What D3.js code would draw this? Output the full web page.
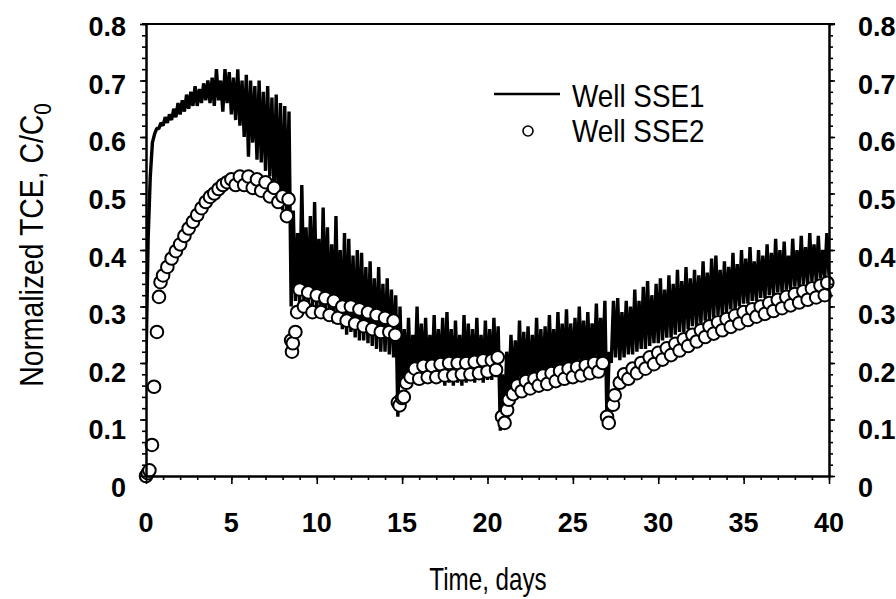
<!DOCTYPE html>
<html>
<head>
<meta charset="utf-8">
<script src="https://cdn.jsdelivr.net/npm/d3@7"></script>
<style>
body { margin: 0; background: #fff; }
svg { display: block; }
.tick-label { font-family: "Liberation Sans", Arial, sans-serif; font-weight: bold; font-size: 27px; fill: #000; }
.title { font-family: "Liberation Sans", Arial, sans-serif; fill: #000; }
</style>
</head>
<body>
<svg width="896" height="599"></svg>
<script>
var svg = d3.select("svg");

// SSE1: one sample pair (low, then high) every 0.25 day, starting at day 0
var sse1Step = 0.25;
var sse1Low = [
  0.20, 0.53, 0.605, 0.615, 0.62, 0.625, 0.63, 0.635, 0.64, 0.645,
  0.65, 0.655, 0.655, 0.66, 0.665, 0.66, 0.655, 0.665, 0.645, 0.66,
  0.64, 0.63, 0.62, 0.60, 0.565, 0.59, 0.56, 0.555, 0.54, 0.53,
  0.50, 0.49, 0.47, 0.46, 0.30, 0.31, 0.30, 0.31, 0.30, 0.30,
  0.29, 0.29, 0.28, 0.28, 0.27, 0.27, 0.26, 0.25, 0.255, 0.245,
  0.24, 0.24, 0.235, 0.23, 0.225, 0.22, 0.22, 0.215, 0.21, 0.105,
  0.16, 0.165, 0.165, 0.17, 0.165, 0.17, 0.165, 0.17, 0.165, 0.17,
  0.16, 0.165, 0.16, 0.165, 0.16, 0.165, 0.17, 0.165, 0.17, 0.165,
  0.17, 0.17, 0.175, 0.08, 0.10, 0.14, 0.15, 0.155, 0.155, 0.16,
  0.16, 0.165, 0.165, 0.17, 0.17, 0.175, 0.175, 0.18, 0.18, 0.18,
  0.185, 0.185, 0.19, 0.19, 0.19, 0.195, 0.195, 0.20, 0.09, 0.20,
  0.21, 0.205, 0.21, 0.215, 0.215, 0.22, 0.225, 0.225, 0.23, 0.235,
  0.235, 0.24, 0.245, 0.245, 0.25, 0.255, 0.255, 0.26, 0.265, 0.265,
  0.27, 0.275, 0.275, 0.28, 0.285, 0.285, 0.29, 0.295, 0.295, 0.30,
  0.305, 0.305, 0.31, 0.31, 0.315, 0.315, 0.32, 0.32, 0.325, 0.325,
  0.33, 0.33, 0.335, 0.335, 0.34, 0.34, 0.345, 0.345, 0.35, 0.35,
  0.355
];
var sse1High = [
  0.42, 0.59, 0.615, 0.625, 0.635, 0.64, 0.65, 0.66, 0.665, 0.675,
  0.68, 0.69, 0.685, 0.695, 0.70, 0.705, 0.72, 0.70, 0.72, 0.715,
  0.705, 0.72, 0.70, 0.71, 0.70, 0.69, 0.70, 0.68, 0.69, 0.67,
  0.675, 0.66, 0.655, 0.645, 0.47, 0.43, 0.515, 0.44, 0.46, 0.485,
  0.42, 0.475, 0.44, 0.41, 0.46, 0.40, 0.43, 0.42, 0.39, 0.40,
  0.395, 0.37, 0.38, 0.35, 0.37, 0.34, 0.35, 0.33, 0.32, 0.30,
  0.26, 0.28, 0.25, 0.30, 0.27, 0.28, 0.25, 0.285, 0.26, 0.28,
  0.29, 0.26, 0.275, 0.25, 0.285, 0.27, 0.26, 0.28, 0.25, 0.275,
  0.26, 0.28, 0.265, 0.18, 0.22, 0.25, 0.24, 0.275, 0.255, 0.265,
  0.25, 0.28, 0.26, 0.265, 0.285, 0.26, 0.29, 0.27, 0.295, 0.27,
  0.28, 0.30, 0.275, 0.29, 0.27, 0.305, 0.28, 0.31, 0.22, 0.31,
  0.315, 0.29, 0.31, 0.30, 0.33, 0.31, 0.335, 0.345, 0.32, 0.34,
  0.35, 0.33, 0.355, 0.34, 0.365, 0.345, 0.37, 0.35, 0.365, 0.355,
  0.38, 0.36, 0.385, 0.39, 0.365, 0.38, 0.37, 0.395, 0.375, 0.40,
  0.385, 0.405, 0.38, 0.40, 0.39, 0.41, 0.395, 0.42, 0.40, 0.415,
  0.39, 0.42, 0.40, 0.425, 0.405, 0.43, 0.41, 0.425, 0.40, 0.43,
  0.41
];

// SSE2 sampled points
var sse2Day = [
  0, 0.1, 0.2, 0.35, 0.47, 0.64, 0.76, 0.85,
  1.0, 1.25, 1.5, 1.75, 2.0, 2.25, 2.5, 2.75, 3.0, 3.25, 3.5, 3.75,
  4.0, 4.25, 4.5, 4.75, 5.0, 5.25, 5.5, 5.75, 6.0, 6.25, 6.5, 6.75,
  7.0, 7.25, 7.5, 7.75, 8.0, 8.25, 8.35,
  8.5, 8.55, 8.6, 8.75, 8.85,
  9.0, 9.25, 9.5, 9.75, 10.0, 10.25, 10.5, 10.75, 11.0, 11.25, 11.5, 11.75,
  12.0, 12.25, 12.5, 12.75, 13.0, 13.25, 13.5, 13.75, 14.0, 14.25, 14.5, 14.6,
  14.75, 14.85, 15.0, 15.1,
  15.25, 15.5, 15.75, 16.0, 16.25, 16.5, 16.75, 17.0, 17.25, 17.5, 17.75,
  18.0, 18.25, 18.5, 18.75, 19.0, 19.25, 19.5, 19.75, 20.0, 20.25, 20.5, 20.6,
  20.85, 21.0, 21.15, 21.25,
  21.5, 21.75, 22.0, 22.25, 22.5, 22.75, 23.0, 23.25, 23.5, 23.75, 24.0,
  24.25, 24.5, 24.75, 25.0, 25.25, 25.5, 25.75, 26.0, 26.25, 26.5, 26.75,
  27.0, 27.1, 27.35, 27.45,
  27.75, 28.0, 28.25, 28.5, 28.75, 29.0, 29.25, 29.5, 29.75, 30.0, 30.25,
  30.5, 30.75, 31.0, 31.25, 31.5, 31.75, 32.0, 32.25, 32.5, 32.75, 33.0,
  33.25, 33.5, 33.75, 34.0, 34.25, 34.5, 34.75, 35.0, 35.25, 35.5, 35.75,
  36.0, 36.25, 36.5, 36.75, 37.0, 37.25, 37.5, 37.75, 38.0, 38.25, 38.5,
  38.75, 39.0, 39.25, 39.5, 39.75, 39.9
];
var sse2Value = [
  0, 0.005, 0.01, 0.055, 0.158, 0.255, 0.317, 0.343,
  0.355, 0.37, 0.385, 0.398, 0.41, 0.425, 0.438, 0.45, 0.462, 0.474, 0.485, 0.494,
  0.50, 0.508, 0.515, 0.52, 0.525, 0.515, 0.53, 0.515, 0.53, 0.51, 0.525, 0.505,
  0.52, 0.495, 0.51, 0.485, 0.495, 0.46, 0.49,
  0.24, 0.22, 0.235, 0.255, 0.29,
  0.33, 0.30, 0.325, 0.29, 0.32, 0.29, 0.315, 0.285, 0.31, 0.28, 0.30, 0.275,
  0.30, 0.27, 0.295, 0.265, 0.29, 0.26, 0.285, 0.255, 0.28, 0.255, 0.275, 0.25,
  0.13, 0.125, 0.138, 0.14,
  0.165, 0.175, 0.19, 0.172, 0.195, 0.175, 0.195, 0.175, 0.198, 0.178, 0.20,
  0.178, 0.20, 0.18, 0.20, 0.18, 0.202, 0.182, 0.205, 0.185, 0.205, 0.188, 0.21,
  0.105, 0.094, 0.117, 0.135,
  0.145, 0.16, 0.15, 0.168, 0.155, 0.172, 0.16, 0.178, 0.163, 0.182, 0.168,
  0.186, 0.172, 0.19, 0.175, 0.193, 0.178, 0.196, 0.182, 0.20, 0.185, 0.20,
  0.105, 0.094, 0.126, 0.143,
  0.165, 0.18, 0.172, 0.19, 0.182, 0.20, 0.19, 0.21, 0.198, 0.218, 0.206,
  0.226, 0.214, 0.234, 0.222, 0.242, 0.23, 0.25, 0.238, 0.258, 0.246, 0.265,
  0.252, 0.272, 0.258, 0.278, 0.264, 0.284, 0.27, 0.29, 0.276, 0.295, 0.282,
  0.30, 0.287, 0.306, 0.292, 0.312, 0.297, 0.317, 0.302, 0.322, 0.307, 0.327,
  0.312, 0.332, 0.316, 0.337, 0.32, 0.342
];

var xMajor = [0, 5, 10, 15, 20, 25, 30, 35, 40];
var yMajor = [0, 0.1, 0.2, 0.3, 0.4, 0.5, 0.6, 0.7, 0.8];

var plotLeft = 146, plotRight = 829, plotTop = 24, plotBottom = 476;
var x = d3.scaleLinear().domain([0, 40]).range([plotLeft, plotRight]);
var y = d3.scaleLinear().domain([0, 0.8]).range([plotBottom, plotTop]);
// the printed labels sit on a slightly wider spacing than the ticks
var yLabel = d3.scaleLinear().domain([0, 0.8]).range([497, 36]);

svg.append("clipPath").attr("id", "plot")
  .append("rect").attr("x", plotLeft).attr("y", plotTop - 10)
  .attr("width", plotRight - plotLeft).attr("height", plotBottom - plotTop + 10);

// SSE1 line
var sse1 = [];
sse1Low.forEach(function(v, i) {
  sse1.push([i * sse1Step, v]);
  sse1.push([i * sse1Step + sse1Step / 2, sse1High[i]]);
});
var line = d3.line()
  .x(function(d) { return x(d[0]); })
  .y(function(d) { return y(d[1]); });

svg.append("path")
  .datum(sse1)
  .attr("clip-path", "url(#plot)")
  .attr("d", line)
  .attr("fill", "none")
  .attr("stroke", "#000")
  .attr("stroke-width", 3.4)
  .attr("stroke-linejoin", "bevel");

// SSE2 circles
svg.append("g")
  .selectAll("circle")
  .data(sse2Day)
  .enter()
  .append("circle")
  .attr("cx", function(d) { return x(d); })
  .attr("cy", function(d, i) { return y(sse2Value[i]); })
  .attr("r", 6.3)
  .attr("fill", "#fff")
  .attr("stroke", "#000")
  .attr("stroke-width", 2);

// axes
function axisStyle(g) {
  g.select(".domain").attr("stroke", "#000").attr("stroke-width", 2);
  g.selectAll(".tick line").attr("stroke", "#000").attr("stroke-width", 1.6);
  g.selectAll(".tick text").remove();
}

svg.append("g").attr("transform", "translate(0," + plotBottom + ")")
  .call(d3.axisBottom(x).tickValues(d3.range(0, 41, 1)).tickSize(4).tickSizeOuter(0).tickFormat(""))
  .call(axisStyle);
svg.append("g").attr("transform", "translate(0," + plotBottom + ")")
  .call(d3.axisBottom(x).tickValues(xMajor).tickSize(8).tickSizeOuter(0).tickFormat(""))
  .call(axisStyle);

[[d3.axisLeft, plotLeft], [d3.axisRight, plotRight]].forEach(function(a) {
  svg.append("g").attr("transform", "translate(" + a[1] + ",0)")
    .call(a[0](y).tickValues(d3.range(0, 41, 1).map(function(k) { return k / 50; })).tickSize(4).tickSizeOuter(0).tickFormat(""))
    .call(axisStyle);
  svg.append("g").attr("transform", "translate(" + a[1] + ",0)")
    .call(a[0](y).tickValues(yMajor).tickSize(6).tickSizeOuter(0).tickFormat(""))
    .call(axisStyle);
});

// top frame line
svg.append("line")
  .attr("x1", plotLeft - 4).attr("x2", plotRight + 6)
  .attr("y1", plotTop).attr("y2", plotTop)
  .attr("stroke", "#000").attr("stroke-width", 2);

// tick labels
svg.append("g").selectAll("text").data(yMajor).enter().append("text")
  .attr("class", "tick-label")
  .attr("x", 126).attr("y", function(d) { return yLabel(d); })
  .attr("text-anchor", "end")
  .text(function(d) { return d === 0 ? "0" : d3.format(".1f")(d); });
svg.append("g").selectAll("text").data(yMajor).enter().append("text")
  .attr("class", "tick-label")
  .attr("x", 858).attr("y", function(d) { return yLabel(d); })
  .attr("text-anchor", "start")
  .text(function(d) { return d === 0 ? "0" : d3.format(".1f")(d); });
svg.append("g").selectAll("text").data(xMajor).enter().append("text")
  .attr("class", "tick-label")
  .attr("x", function(d) { return x(d); }).attr("y", 532)
  .attr("text-anchor", "middle")
  .text(function(d) { return d; });

// axis titles (regular sans squeezed horizontally to look condensed)
svg.append("text").attr("class", "title")
  .attr("transform", "translate(488,590) scale(0.78,1)")
  .attr("text-anchor", "middle")
  .style("font-size", "31px")
  .text("Time, days");

var yt = svg.append("text").attr("class", "title")
  .attr("transform", "translate(43,245) rotate(-90) scale(0.86,1)")
  .attr("text-anchor", "middle")
  .style("font-size", "33px");
yt.append("tspan").text("Normalized TCE, C/C");
yt.append("tspan").attr("dy", 8).style("font-size", "24px").text("0");

// legend
svg.append("line")
  .attr("x1", 494).attr("x2", 560).attr("y1", 94).attr("y2", 94)
  .attr("stroke", "#000").attr("stroke-width", 2.5);
svg.append("circle")
  .attr("cx", 528).attr("cy", 131).attr("r", 5)
  .attr("fill", "#fff").attr("stroke", "#000").attr("stroke-width", 1.6);
svg.append("text").attr("class", "title")
  .attr("transform", "translate(572,107) scale(0.87,1)")
  .style("font-size", "32px").text("Well SSE1");
svg.append("text").attr("class", "title")
  .attr("transform", "translate(572,142) scale(0.87,1)")
  .style("font-size", "32px").text("Well SSE2");
</script>
</body>
</html>
